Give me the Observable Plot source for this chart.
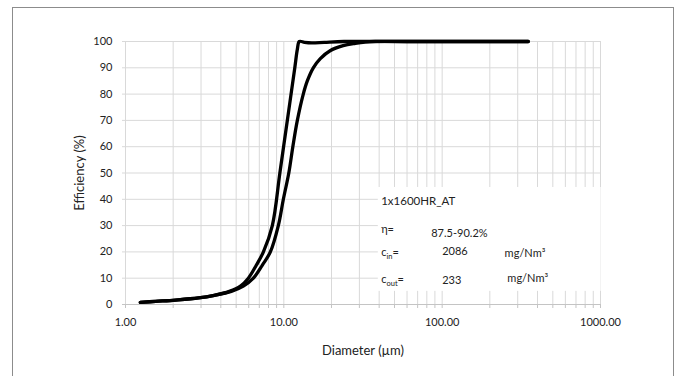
<!DOCTYPE html>
<html>
<head>
<meta charset="utf-8">
<script src="https://cdn.jsdelivr.net/npm/d3@7"></script>
<script src="https://cdn.jsdelivr.net/npm/@observablehq/plot@0.6"></script>
<style>
  html, body { margin: 0; padding: 0; background: #fff; }
  #wrap { position: relative; width: 680px; height: 376px; overflow: hidden; }
  #frame { position: absolute; left: 12px; top: 7px; width: 662px; height: 420px;
           border: 1.6px solid #8c8c8c; box-sizing: border-box; pointer-events: none; }
</style>
</head>
<body>
<div id="wrap"><div id="frame"></div></div>
<script>
// Curve A (steeper) – diameter (µm) and efficiency (%)
const diamA = [1.24, 1.55, 2.07, 2.89, 3.64, 4.53, 5.32, 5.97, 6.71, 7.43, 8.46, 9.44, 10.52, 11.73, 12.17, 12.53, 13.5, 15, 18, 24, 50, 150, 350];
const effA  = [0.8, 1.2, 1.7, 2.5, 3.5, 5.0, 7.0, 10, 15, 20, 30, 50, 70, 90, 97, 100, 99.7, 99.5, 99.7, 100, 100, 100, 100];
// Curve B (gradual top)
const diamB = [1.24, 1.55, 2.07, 2.89, 3.64, 4.66, 5.55, 6.42, 7.32, 8.22, 9.23, 9.93, 10.75, 11.40, 12.17, 13.27, 14.07, 15.35, 17.0, 19.6, 23.7, 28.3, 32.7, 37.8, 60, 150, 350];
const effB  = [0.8, 1.2, 1.7, 2.5, 3.5, 5.0, 7.0, 10, 15, 20, 30, 40, 50, 60, 70, 80, 85, 90, 93.5, 96.5, 98.4, 99.3, 99.8, 100, 100, 100, 100];

// Axis ticks and labels
const xTicks = [1, 10, 100, 1000];
const xMinor = d3.range(0, 3).flatMap(k => d3.range(1, 10).map(m => m * 10 ** k)).concat([1000]);
const yTicks = [0, 10, 20, 30, 40, 50, 60, 70, 80, 90, 100];
const xLabel = "Diameter (µm)";
const yLabel = "Efficiency (%)";

// Annotation box texts
const annotTitle = "1x1600HR_AT";
const annotNames = ["η=", "c_in=", "c_out="];
const annotValues = ["87.5-90.2%", "2086", "233"];
const annotUnits = ["mg/Nm³", "mg/Nm³"];

const series = [
  ...diamA.map((d, i) => ({d, e: effA[i], s: "A"})),
  ...diamB.map((d, i) => ({d, e: effB[i], s: "B"}))
];

const grid = "#d9d9d9";
const font = "Lato, 'Open Sans', sans-serif";

const annot = [
  {x: 41.2, y: 39.2, t: annotTitle, f: 11.5},
  {x: 41.2, y: 28.4, t: annotNames[0], f: 11},
  {x: 85.3, y: 27.0, t: annotValues[0], f: 11},
  {x: 41.2, y: 19.6, t: annotNames[1], f: 11},
  {x: 100,  y: 20.2, t: annotValues[1], f: 11},
  {x: 248,  y: 19.4, t: annotUnits[0], f: 11},
  {x: 41.2, y: 9.4,  t: annotNames[2], f: 11},
  {x: 100,  y: 9.0,  t: annotValues[2], f: 11},
  {x: 258,  y: 9.9,  t: annotUnits[1], f: 11}
];

const plot = Plot.plot({
  width: 680,
  height: 376,
  marginLeft: 125,
  marginRight: 80,
  marginTop: 41,
  marginBottom: 72,
  style: {fontFamily: font, fontSize: "11px", color: "#222", background: "transparent"},
  x: {type: "log", domain: [1, 1000]},
  y: {type: "linear", domain: [0, 100]},
  marks: [
    Plot.ruleX(xMinor, {stroke: grid, strokeWidth: 1}),
    Plot.ruleY(yTicks.filter(v => v > 0), {stroke: grid, strokeWidth: 1, insetLeft: -3}),
    Plot.ruleY([0], {stroke: "#c4c4c4", strokeWidth: 1, insetLeft: -3}),
    Plot.ruleX(xMinor, {y1: 0, y2: 0, stroke: "#c4c4c4", insetBottom: -4}),
    Plot.rect([{x1: 39.5, x2: 1010, y1: 5, y2: 44.5}], {x1: "x1", x2: "x2", y1: "y1", y2: "y2", fill: "white"}),
    Plot.line(series, {x: "d", y: "e", z: "s", stroke: "black", strokeWidth: 3.3, curve: "catmull-rom", strokeLinejoin: "round"}),
    Plot.axisX(xTicks, {tickSize: 0, tickPadding: 14, tickFormat: d => d.toFixed(2), label: null, fontSize: 11}),
    Plot.axisY(yTicks, {tickSize: 0, tickPadding: 13, label: null, fontSize: 11}),
    Plot.text([xLabel], {frameAnchor: "bottom", dy: 50, fontSize: 13}),
    Plot.text([yLabel], {x: 1, y: 50, dx: -46, rotate: -90, fontSize: 13}),
    Plot.text(annot, {x: "x", y: "y", text: "t", textAnchor: "start", fontSize: "f"})
  ]
});

// subscripts in annotation
d3.select(plot).selectAll("text").each(function() {
  const t = this.textContent;
  const m = /^c_(in|out)=$/.exec(t);
  if (m) {
    const el = d3.select(this);
    el.text(null);
    el.append("tspan").text("c");
    el.append("tspan").attr("font-size", 7.5).attr("dy", 2.5).text(m[1]);
    el.append("tspan").attr("dy", -2.5).text("=");
  }
});

d3.select("#wrap").node().prepend(plot);
</script>
</body>
</html>
